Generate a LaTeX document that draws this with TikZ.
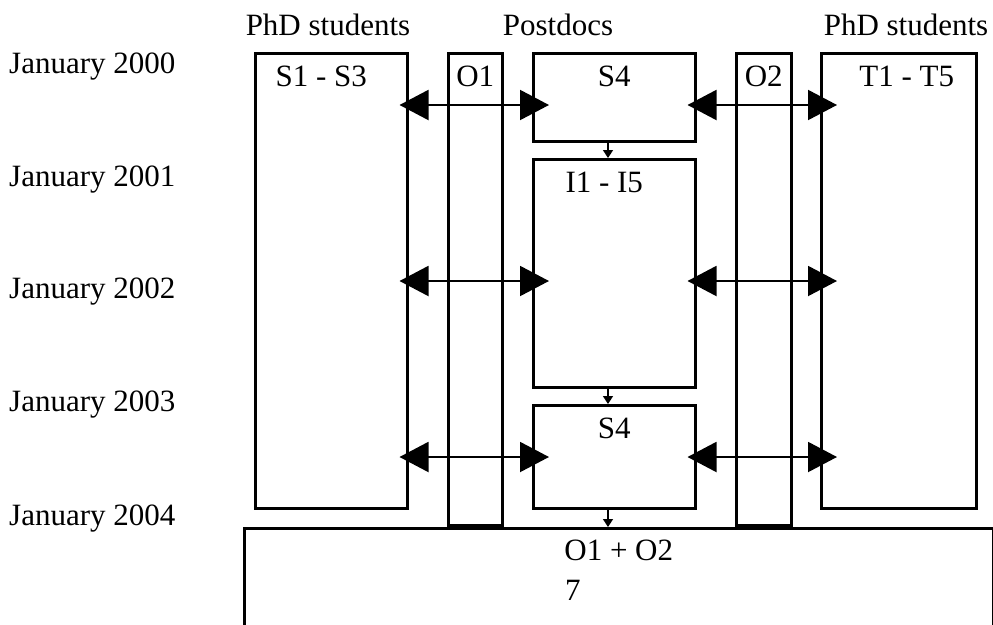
\documentclass[tikz,border=0pt]{standalone}
\usepackage{fontspec}
\setmainfont{Liberation Serif}
\usetikzlibrary{arrows.meta}

\begin{document}
\begin{tikzpicture}[x=1pt, y=-1pt,
    every node/.style={font=\fontsize{31}{36}\selectfont, inner sep=0pt},
    box/.style={draw, line width=2.5pt, anchor=north west},
    link/.style={line width=2pt, {Triangle[length=29pt, width=30pt]}-{Triangle[length=29pt, width=30pt]}, shorten <=-9pt, shorten >=-17pt},
    next/.style={line width=1.5pt, -{Triangle[length=8pt, width=10pt]}}]
    \useasboundingbox (0,0) rectangle (993,624);

    % column headers
    \node[anchor=base] (hl) at (328,35) {PhD students};
    \node[anchor=base] (hm) at (558,35) {Postdocs};
    \node[anchor=base] (hr) at (906,35) {PhD students};

    % time axis
    \foreach \yr/\y in {2000/73, 2001/186, 2002/298, 2003/411, 2004/525}
        \node[anchor=base west] (y\yr) at (9,\y) {January \yr};

    % boxes
    \node[box, minimum width=152pt, minimum height=455pt] (s13) at (254,52) {};
    \node[box, minimum width=54pt, minimum height=472pt] (o1) at (447,52) {};
    \node[box, minimum width=162pt, minimum height=88pt] (s4a) at (532,52) {};
    \node[box, minimum width=162pt, minimum height=228pt] (ii) at (532,158) {};
    \node[box, minimum width=162pt, minimum height=103pt] (s4b) at (532,404) {};
    \node[box, minimum width=55pt, minimum height=472pt] (o2) at (735,52) {};
    \node[box, minimum width=155pt, minimum height=455pt] (t15) at (820,52) {};
    \node[box, minimum width=749pt, minimum height=120pt] (all) at (243,527) {};

    \node[anchor=base] (s13t) at ([xshift=-10pt, yshift=-34pt]s13.north) {S1 - S3};
    \node[anchor=base] (o1t) at ([yshift=-34pt]o1.north) {O1};
    \node[anchor=base] (s4at) at ([yshift=-34pt]s4a.north) {S4};
    \node[anchor=base] (iit) at ([xshift=-10pt, yshift=-34pt]ii.north) {I1 - I5};
    \node[anchor=base] (s4bt) at ([yshift=-34pt]s4b.north) {S4};
    \node[anchor=base] (o2t) at ([yshift=-34pt]o2.north) {O2};
    \node[anchor=base] (t15t) at ([xshift=8pt, yshift=-34pt]t15.north) {T1 - T5};
    \node[anchor=base] (allt) at ([yshift=-33pt]all.north) {O1 + O2};
    \node[anchor=base west] (pg) at (565,600) {7};

    % exchanges
    \coordinate (r1) at (0,105);
    \coordinate (r2) at (0,281);
    \coordinate (r3) at (0,457);
    \draw[link] (s13.east |- r1) -- (s4a.west |- r1);
    \draw[link] (s4a.east |- r1) -- (t15.west |- r1);
    \draw[link] (s13.east |- r2) -- (ii.west |- r2);
    \draw[link] (ii.east |- r2) -- (t15.west |- r2);
    \draw[link] (s13.east |- r3) -- (s4b.west |- r3);
    \draw[link] (s4b.east |- r3) -- (t15.west |- r3);

    % succession
    \coordinate (dx) at (608,0);
    \draw[next] (s4a.south -| dx) -- (ii.north -| dx);
    \draw[next] (ii.south -| dx) -- (s4b.north -| dx);
    \draw[next] (s4b.south -| dx) -- (all.north -| dx);
\end{tikzpicture}
\end{document}
